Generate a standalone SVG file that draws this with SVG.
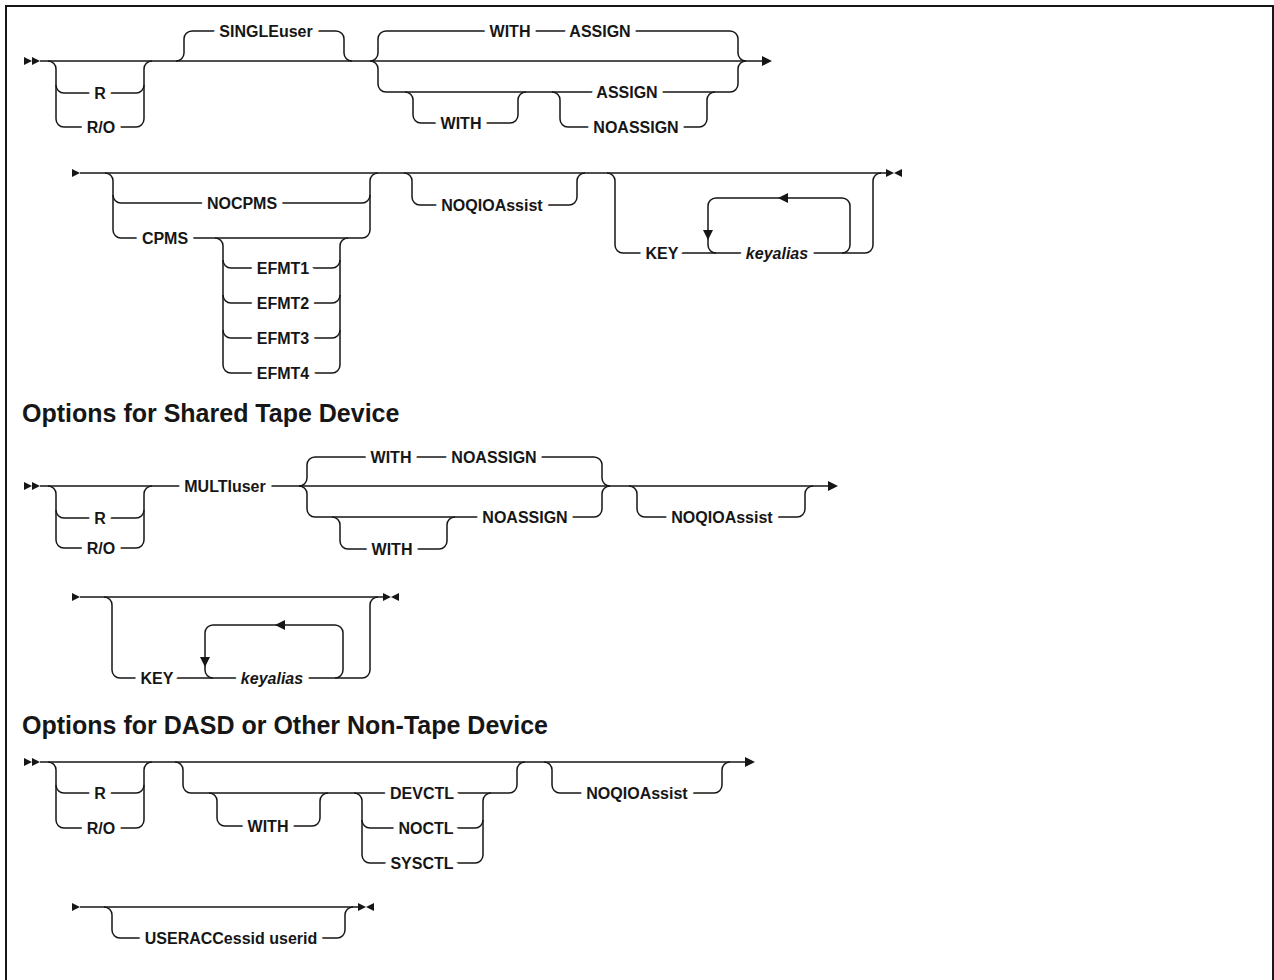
<svg xmlns="http://www.w3.org/2000/svg" width="1274" height="980" viewBox="0 0 1274 980">
<style>
.c{fill:none;stroke:#161616;stroke-width:1.5}
.a{fill:#161616;stroke:none}
.t{font-family:"Liberation Sans",Arial,sans-serif;font-weight:bold;font-size:16px;fill:#161616;text-anchor:middle;stroke:#fff;stroke-width:12;stroke-linejoin:round;paint-order:stroke}
.i{font-style:italic}
.h{font-family:"Liberation Sans",Arial,sans-serif;font-weight:bold;font-size:25px;fill:#161616}
</style>
<rect x="0" y="0" width="1274" height="980" fill="#fff"/>
<rect x="6" y="6" width="1267" height="1000" fill="none" stroke="#161616" stroke-width="2"/>
<g id="connectors">
<!-- row 1 -->
<polygon class="a" points="24,57 32,61 24,65"/><polygon class="a" points="32,57 40,61 32,65"/>
<path class="c" d="M40,61 H763"/>
<polygon class="a" points="762,56 772,61 762,66"/>
<path class="c" d="M48,61 A8,8 0 0 1 56,69 V119 A8,8 0 0 0 64,127 H136 A8,8 0 0 0 144,119 V69 A8,8 0 0 1 152,61"/>
<path class="c" d="M56,85 A8,8 0 0 0 64,93 H136 A8,8 0 0 0 144,85"/>
<path class="c" d="M176,61 A8,8 0 0 0 184,53 V39 A8,8 0 0 1 192,31 H336 A8,8 0 0 1 344,39 V53 A8,8 0 0 0 352,61"/>
<path class="c" d="M370,61 A8,8 0 0 0 378,53 V39 A8,8 0 0 1 386,31 H730 A8,8 0 0 1 738,39 V53 A8,8 0 0 0 746,61"/>
<path class="c" d="M370,61 A8,8 0 0 1 378,69 V84 A8,8 0 0 0 386,92 H730 A8,8 0 0 0 738,84 V69 A8,8 0 0 1 746,61"/>
<path class="c" d="M405,92 A8,8 0 0 1 413,100 V115 A8,8 0 0 0 421,123 H510 A8,8 0 0 0 518,115 V100 A8,8 0 0 1 526,92"/>
<path class="c" d="M552,92 A8,8 0 0 1 560,100 V119 A8,8 0 0 0 568,127 H699 A8,8 0 0 0 707,119 V100 A8,8 0 0 1 715,92"/>
<!-- row 2 -->
<polygon class="a" points="72,169 80,173 72,177"/>
<path class="c" d="M80,173 H886"/>
<polygon class="a" points="886,169 894,173 886,177"/><polygon class="a" points="902,169 894,173 902,177"/>
<path class="c" d="M105,173 A8,8 0 0 1 113,181 V230 A8,8 0 0 0 121,238 H362 A8,8 0 0 0 370,230 V181 A8,8 0 0 1 378,173"/>
<path class="c" d="M113,195 A8,8 0 0 0 121,203 H362 A8,8 0 0 0 370,195"/>
<path class="c" d="M215,238 A8,8 0 0 1 223,246 V365 A8,8 0 0 0 231,373 H332 A8,8 0 0 0 340,365 V246 A8,8 0 0 1 348,238"/>
<path class="c" d="M223,260 A8,8 0 0 0 231,268 H332 A8,8 0 0 0 340,260"/>
<path class="c" d="M223,295 A8,8 0 0 0 231,303 H332 A8,8 0 0 0 340,295"/>
<path class="c" d="M223,330 A8,8 0 0 0 231,338 H332 A8,8 0 0 0 340,330"/>
<path class="c" d="M404,173 A8,8 0 0 1 412,181 V197 A8,8 0 0 0 420,205 H569 A8,8 0 0 0 577,197 V181 A8,8 0 0 1 585,173"/>
<path class="c" d="M607,173 A8,8 0 0 1 615,181 V245 A8,8 0 0 0 623,253 H865 A8,8 0 0 0 873,245 V181 A8,8 0 0 1 881,173"/>
<path class="c" d="M716,253 A8,8 0 0 1 708,245 V206 A8,8 0 0 1 716,198 H842 A8,8 0 0 1 850,206 V245 A8,8 0 0 1 842,253"/>
<polygon class="a" points="778,198 788,193 788,203"/>
<polygon class="a" points="703,230 713,230 708,240"/>
<!-- row 3 -->
<polygon class="a" points="24,482 32,486 24,490"/><polygon class="a" points="32,482 40,486 32,490"/>
<path class="c" d="M40,486 H829"/>
<polygon class="a" points="828,481 838,486 828,491"/>
<path class="c" d="M48,486 A8,8 0 0 1 56,494 V540 A8,8 0 0 0 64,548 H136 A8,8 0 0 0 144,540 V494 A8,8 0 0 1 152,486"/>
<path class="c" d="M56,510 A8,8 0 0 0 64,518 H136 A8,8 0 0 0 144,510"/>
<path class="c" d="M299,486 A8,8 0 0 0 307,478 V465 A8,8 0 0 1 315,457 H594 A8,8 0 0 1 602,465 V478 A8,8 0 0 0 610,486"/>
<path class="c" d="M299,486 A8,8 0 0 1 307,494 V509 A8,8 0 0 0 315,517 H594 A8,8 0 0 0 602,509 V494 A8,8 0 0 1 610,486"/>
<path class="c" d="M332,517 A8,8 0 0 1 340,525 V541 A8,8 0 0 0 348,549 H439 A8,8 0 0 0 447,541 V525 A8,8 0 0 1 455,517"/>
<path class="c" d="M629,486 A8,8 0 0 1 637,494 V509 A8,8 0 0 0 645,517 H797 A8,8 0 0 0 805,509 V494 A8,8 0 0 1 813,486"/>
<!-- row 4 -->
<polygon class="a" points="72,593 80,597 72,601"/>
<path class="c" d="M80,597 H383"/>
<polygon class="a" points="383,593 391,597 383,601"/><polygon class="a" points="399,593 391,597 399,601"/>
<path class="c" d="M104,597 A8,8 0 0 1 112,605 V670 A8,8 0 0 0 120,678 H362 A8,8 0 0 0 370,670 V605 A8,8 0 0 1 378,597"/>
<path class="c" d="M213,678 A8,8 0 0 1 205,670 V633 A8,8 0 0 1 213,625 H335 A8,8 0 0 1 343,633 V670 A8,8 0 0 1 335,678"/>
<polygon class="a" points="275,625 285,620 285,630"/>
<polygon class="a" points="200,657 210,657 205,667"/>
<!-- row 5 -->
<polygon class="a" points="24,758 32,762 24,766"/><polygon class="a" points="32,758 40,762 32,766"/>
<path class="c" d="M40,762 H746"/>
<polygon class="a" points="745,757 755,762 745,767"/>
<path class="c" d="M48,762 A8,8 0 0 1 56,770 V820 A8,8 0 0 0 64,828 H136 A8,8 0 0 0 144,820 V770 A8,8 0 0 1 152,762"/>
<path class="c" d="M56,785 A8,8 0 0 0 64,793 H136 A8,8 0 0 0 144,785"/>
<path class="c" d="M175,762 A8,8 0 0 1 183,770 V785 A8,8 0 0 0 191,793 H509 A8,8 0 0 0 517,785 V770 A8,8 0 0 1 525,762"/>
<path class="c" d="M209,793 A8,8 0 0 1 217,801 V818 A8,8 0 0 0 225,826 H312 A8,8 0 0 0 320,818 V801 A8,8 0 0 1 328,793"/>
<path class="c" d="M354,793 A8,8 0 0 1 362,801 V855 A8,8 0 0 0 370,863 H475 A8,8 0 0 0 483,855 V801 A8,8 0 0 1 491,793"/>
<path class="c" d="M362,820 A8,8 0 0 0 370,828 H475 A8,8 0 0 0 483,820"/>
<path class="c" d="M544,762 A8,8 0 0 1 552,770 V785 A8,8 0 0 0 560,793 H714 A8,8 0 0 0 722,785 V770 A8,8 0 0 1 730,762"/>
<!-- row 6 -->
<polygon class="a" points="72,903 80,907 72,911"/>
<path class="c" d="M80,907 H358"/>
<polygon class="a" points="358,903 366,907 358,911"/><polygon class="a" points="374,903 366,907 374,911"/>
<path class="c" d="M104,907 A8,8 0 0 1 112,915 V930 A8,8 0 0 0 120,938 H337 A8,8 0 0 0 345,930 V915 A8,8 0 0 1 353,907"/>
</g>
<g id="headings">
<text class="h" x="22" y="422">Options for Shared Tape Device</text>
<text class="h" x="22" y="734">Options for DASD or Other Non-Tape Device</text>
</g>
<g id="n-r1-R"><text class="t" x="100" y="99">R</text></g>
<g id="n-r1-RO"><text class="t" x="101" y="133">R/O</text></g>
<g id="n-r1-SINGLEuser"><text class="t" x="266" y="37">SINGLEuser</text></g>
<g id="n-r1-WITH-top"><text class="t" x="510" y="37">WITH</text></g>
<g id="n-r1-ASSIGN-top"><text class="t" x="600" y="37">ASSIGN</text></g>
<g id="n-r1-WITH"><text class="t" x="461" y="129">WITH</text></g>
<g id="n-r1-ASSIGN"><text class="t" x="627" y="98">ASSIGN</text></g>
<g id="n-r1-NOASSIGN"><text class="t" x="636" y="133">NOASSIGN</text></g>
<g id="n-r2-NOCPMS"><text class="t" x="242" y="209">NOCPMS</text></g>
<g id="n-r2-CPMS"><text class="t" x="165" y="244">CPMS</text></g>
<g id="n-r2-EFMT1"><text class="t" x="283" y="274">EFMT1</text></g>
<g id="n-r2-EFMT2"><text class="t" x="283" y="309">EFMT2</text></g>
<g id="n-r2-EFMT3"><text class="t" x="283" y="344">EFMT3</text></g>
<g id="n-r2-EFMT4"><text class="t" x="283" y="379">EFMT4</text></g>
<g id="n-r2-NOQIOAssist"><text class="t" x="492" y="211">NOQIOAssist</text></g>
<g id="n-r2-KEY"><text class="t" x="662" y="259">KEY</text></g>
<g id="n-r2-keyalias"><text class="t i" x="777" y="259">keyalias</text></g>
<g id="n-r3-R"><text class="t" x="100" y="524">R</text></g>
<g id="n-r3-RO"><text class="t" x="101" y="554">R/O</text></g>
<g id="n-r3-MULTIuser"><text class="t" x="225" y="492">MULTIuser</text></g>
<g id="n-r3-WITH-top"><text class="t" x="391" y="463">WITH</text></g>
<g id="n-r3-NOASSIGN-top"><text class="t" x="494" y="463">NOASSIGN</text></g>
<g id="n-r3-WITH"><text class="t" x="392" y="555">WITH</text></g>
<g id="n-r3-NOASSIGN"><text class="t" x="525" y="523">NOASSIGN</text></g>
<g id="n-r3-NOQIOAssist"><text class="t" x="722" y="523">NOQIOAssist</text></g>
<g id="n-r4-KEY"><text class="t" x="157" y="684">KEY</text></g>
<g id="n-r4-keyalias"><text class="t i" x="272" y="684">keyalias</text></g>
<g id="n-r5-R"><text class="t" x="100" y="799">R</text></g>
<g id="n-r5-RO"><text class="t" x="101" y="834">R/O</text></g>
<g id="n-r5-WITH"><text class="t" x="268" y="832">WITH</text></g>
<g id="n-r5-DEVCTL"><text class="t" x="422" y="799">DEVCTL</text></g>
<g id="n-r5-NOCTL"><text class="t" x="426" y="834">NOCTL</text></g>
<g id="n-r5-SYSCTL"><text class="t" x="422" y="869">SYSCTL</text></g>
<g id="n-r5-NOQIOAssist"><text class="t" x="637" y="799">NOQIOAssist</text></g>
<g id="n-r6-USERACCessid"><text class="t" x="231" y="944">USERACCessid userid</text></g>
</svg>
